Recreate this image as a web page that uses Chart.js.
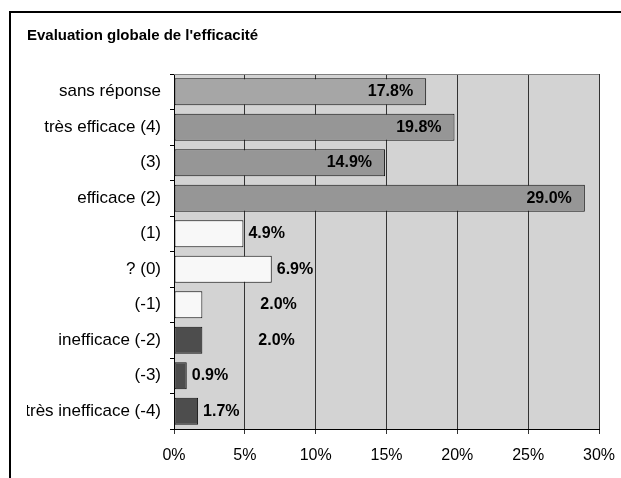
<!DOCTYPE html>
<html>
<head>
<meta charset="utf-8">
<script src="https://cdn.jsdelivr.net/npm/chart.js@4/dist/chart.umd.min.js"></script>
<style>
    body { margin: 0; background: #fff; }
    canvas { display: block; }
</style>
</head>
<body>
<canvas id="efficaciteChart" width="621" height="478"></canvas>
<script>
// Données du graphique
const categories = ['sans réponse', 'très efficace (4)', '(3)', 'efficace (2)', '(1)', '? (0)', '(-1)', 'inefficace (-2)', '(-3)', 'très inefficace (-4)'];
const valeurs = [17.8, 19.8, 14.9, 29.0, 4.9, 6.9, 2.0, 2.0, 0.9, 1.7];
const ticksX = [0, 5, 10, 15, 20, 25, 30];

// Couleurs des barres
const couleurs = ['#a6a6a6', '#969696', '#969696', '#969696', '#f8f8f8', '#f8f8f8', '#f8f8f8', '#4d4d4d', '#4d4d4d', '#4d4d4d'];

// Fond, cadre et étiquettes
const cadrePlugin = {
    id: 'cadre',
    beforeDraw(chart) {
        const ctx = chart.ctx;
        const a = chart.chartArea;
        ctx.save();
        ctx.fillStyle = '#fff';
        ctx.fillRect(0, 0, chart.width, chart.height);
        // cadre extérieur
        ctx.strokeStyle = '#000';
        ctx.lineWidth = 2;
        ctx.beginPath();
        ctx.moveTo(10, chart.height);
        ctx.lineTo(10, 12);
        ctx.lineTo(chart.width, 12);
        ctx.stroke();
        // fond de la zone de traçage
        ctx.fillStyle = '#d3d3d3';
        ctx.fillRect(a.left, a.top, a.right - a.left, a.bottom - a.top);
        ctx.restore();
    },
    afterDraw(chart) {
        const ctx = chart.ctx;
        const a = chart.chartArea;
        ctx.save();
        ctx.strokeStyle = '#808080';
        ctx.lineWidth = 1;
        ctx.beginPath();
        ctx.moveTo(a.left, a.top + 0.5);
        ctx.lineTo(a.right, a.top + 0.5);
        ctx.stroke();
        ctx.restore();
    }
};

const etiquettesPlugin = {
    id: 'etiquettes',
    afterDatasetsDraw(chart, args, opts) {
        const ctx = chart.ctx;
        const meta = chart.getDatasetMeta(0);
        ctx.save();
        ctx.font = 'bold 16px "Liberation Sans", Arial, sans-serif';
        ctx.fillStyle = '#000';
        ctx.textBaseline = 'middle';
        meta.data.forEach((bar, i) => {
            const v = valeurs[i];
            const texte = v.toFixed(1) + '%';
            if (v > 10) {
                ctx.textAlign = 'right';
                ctx.fillText(texte, bar.x - 13, bar.y);
            } else {
                ctx.textAlign = 'left';
                ctx.fillText(texte, bar.x + 5 + (opts.decalage[i] || 0), bar.y);
            }
        });
        ctx.restore();
    }
};

const ctx = document.getElementById('efficaciteChart').getContext('2d');
const chart = new Chart(ctx, {
    type: 'bar',
    data: {
        labels: categories,
        datasets: [{
            data: valeurs,
            backgroundColor: couleurs,
            borderColor: '#111',
            borderWidth: 1,
            borderSkipped: false,
            barPercentage: 0.76,
            categoryPercentage: 1.0
        }]
    },
    options: {
        indexAxis: 'y',
        responsive: false,
        animation: false,
        devicePixelRatio: 1,
        layout: {
            padding: { left: 27, right: 22, top: 0, bottom: 0 }
        },
        plugins: {
            legend: { display: false },
            tooltip: { enabled: false },
            title: {
                display: true,
                text: "Evaluation globale de l'efficacité",
                align: 'start',
                color: '#000',
                font: { family: '"Liberation Sans", Arial, sans-serif', size: 15, weight: 'bold', lineHeight: 1.2 },
                padding: { top: 27, bottom: 29 }
            },
            etiquettes: {
                decalage: [0, 0, 0, 0, 0, 0, 53, 51, 0, 0]
            }
        },
        scales: {
            x: {
                min: 0,
                max: 30,
                afterBuildTicks: (axis) => {
                    axis.ticks = ticksX.map(v => ({ value: v }));
                },
                afterFit: (axis) => {
                    axis.height = 49;
                    axis.paddingLeft = 0;
                    axis.paddingRight = 0;
                },
                grid: {
                    color: '#333',
                    lineWidth: 1,
                    drawTicks: true,
                    tickLength: 5
                },
                border: { color: '#000', width: 1 },
                ticks: {
                    color: '#000',
                    padding: 12,
                    font: { family: '"Liberation Sans", Arial, sans-serif', size: 16 },
                    callback: (v) => v + '%'
                }
            },
            y: {
                afterFit: (axis) => {
                    axis.width = 147;
                    axis.paddingTop = 0;
                    axis.paddingBottom = 0;
                },
                grid: {
                    drawOnChartArea: false,
                    drawTicks: true,
                    tickLength: 4,
                    color: '#000',
                    offset: true
                },
                border: { color: '#000', width: 1 },
                ticks: {
                    color: '#000',
                    padding: 9,
                    font: { family: '"Liberation Sans", Arial, sans-serif', size: 17 }
                }
            }
        }
    },
    plugins: [cadrePlugin, etiquettesPlugin]
});
</script>
</body>
</html>
